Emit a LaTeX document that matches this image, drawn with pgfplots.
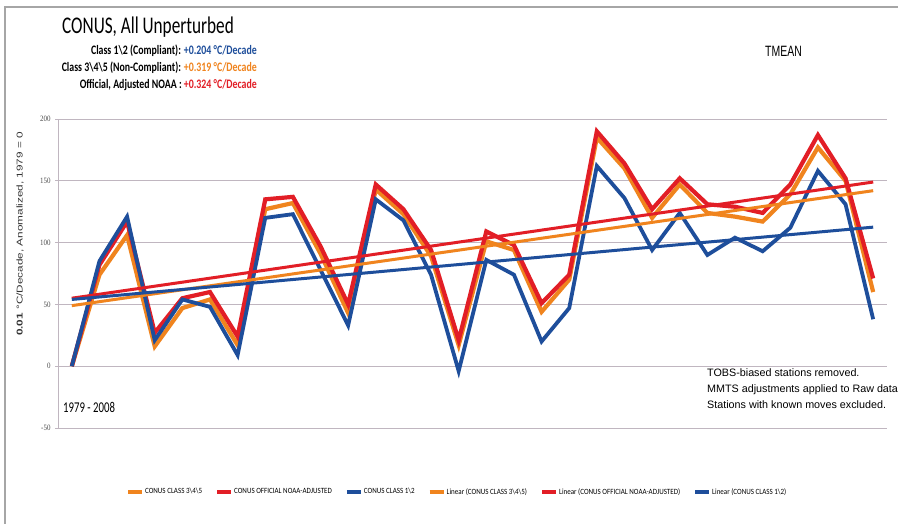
\documentclass[border=0pt]{standalone}
\usepackage{pgfplots}
\pgfplotsset{compat=1.18}
\usepackage{fontspec}
\setmainfont{Carlito}
\newfontfamily\cond[FakeStretch=0.72]{Carlito}
\newfontfamily\subf[FakeStretch=0.76]{Carlito}
\newfontfamily\condarial[FakeStretch=0.7]{Liberation Sans}
\newfontfamily\arialf{Liberation Sans}
\newfontfamily\tickf[FakeStretch=0.85]{Liberation Serif}
\newfontfamily\legf[FakeStretch=0.88]{Carlito}
\definecolor{cOr}{RGB}{240,132,30}
\definecolor{cRd}{RGB}{226,30,38}
\definecolor{cBl}{RGB}{30,78,155}
\definecolor{cGrid}{RGB}{192,182,192}
\pgfplotstableread{
i orange red blue
0 0 0 0
1 74 82 85
2 106 117 121
3 16 27 21
4 47 55 54
5 54 60 48
6 17 24 9
7 127 135 120
8 132 137 123
9 91 97 78
10 43 50 33
11 143 147 135
12 123 127 118
13 89 94 74
14 17 21 -4
15 101 109 86
16 94 98 74
17 44 51 20
18 70 74 47
19 185 190 162
20 160 164 136
21 120 127 94
22 147 152 124
23 124 131 90
24 121 129 104
25 117 124 93
26 139 147 112
27 177 187 158
28 150 152 131
29 60 71 38
}\datatab
\pgfplotstableread{
i orange red blue
0 49 55 54
29 142 149 112.5
}\trendtab
\begin{document}
\begin{tikzpicture}
\useasboundingbox (0,0) rectangle (898bp,524bp);
\fill[white] (0,0) rectangle (898bp,524bp);
\draw[gray!70, line width=1.2bp] (5bp,0) -- (5bp,517bp) -- (898bp,517bp);
\begin{axis}[
  at={(58bp,96bp)}, anchor=south west,
  width=829bp, height=309bp, scale only axis,
  xmin=-0.5, xmax=29.5, ymin=-50, ymax=200,
  axis x line=none, axis y line*=left,
  y axis line style={color=cGrid, line width=1bp},
  ytick={-50,0,50,100,150,200}, xtick=\empty,
  tick align=outside, major tick length=3bp,
  y tick style={color=cGrid, line width=0.8bp},
  ymajorgrids, grid style={color=cGrid, line width=0.8bp},
  /pgf/number format/assume math mode=true,
  yticklabel style={font=\tickf\fontsize{8.2}{9}\selectfont, text=black!70, xshift=-1bp},
  legend style={draw=none, fill=none, at={(0.481,-0.207)}, anchor=center,
    legend columns=6, font=\legf\fontsize{8}{9}\selectfont,
    /tikz/every even column/.append style={column sep=12bp},
    nodes={inner xsep=1bp, inner ysep=1bp}},
  legend image code/.code={\draw[#1, line width=4bp] (0bp,0bp) -- (14bp,0bp);},
]
\addplot[color=cOr, line width=4.2bp, line join=miter] table[x=i, y=orange] {\datatab};
\addplot[color=cRd, line width=4.2bp, line join=miter] table[x=i, y=red] {\datatab};
\addplot[color=cBl, line width=3.8bp, line join=miter] table[x=i, y=blue] {\datatab};
\addplot[color=cOr, line width=3bp] table[x=i, y=orange] {\trendtab};
\addplot[color=cRd, line width=3bp] table[x=i, y=red] {\trendtab};
\addplot[color=cBl, line width=3bp] table[x=i, y=blue] {\trendtab};
\legend{CONUS CLASS 3\textbackslash 4\textbackslash 5,
  CONUS OFFICIAL NOAA-ADJUSTED,
  CONUS CLASS 1\textbackslash 2,
  Linear (CONUS CLASS 3\textbackslash 4\textbackslash 5),
  Linear (CONUS OFFICIAL NOAA-ADJUSTED),
  Linear (CONUS CLASS 1\textbackslash 2)}
\end{axis}
\node[anchor=base west, inner sep=0] at (62bp,490.7bp) {\cond\fontsize{24}{26}\selectfont CONUS, All Unperturbed};
\node[anchor=base east, inner sep=0] at (257bp,469bp) {\subf\bfseries\fontsize{13}{14}\selectfont Class 1\textbackslash 2 (Compliant): \textcolor{cBl}{+0.204 °C/Decade}};
\node[anchor=base east, inner sep=0] at (257bp,452.3bp) {\subf\bfseries\fontsize{13}{14}\selectfont Class 3\textbackslash 4\textbackslash 5 (Non-Compliant): \textcolor{cOr}{+0.319 °C/Decade}};
\node[anchor=base east, inner sep=0] at (257bp,435bp) {\subf\bfseries\fontsize{13}{14}\selectfont Official, Adjusted NOAA : \textcolor{cRd}{+0.324 °C/Decade}};
\node[anchor=base west, inner sep=0] at (765bp,467.3bp) {\condarial\fontsize{15}{17}\selectfont TMEAN};
\node[anchor=base west, inner sep=0] at (63bp,111bp) {\cond\fontsize{15}{17}\selectfont 1979 - 2008};
\node[anchor=base west, inner sep=0] at (707bp,147.3bp) {\arialf\fontsize{10.8}{13}\selectfont TOBS-biased stations removed.};
\node[anchor=base west, inner sep=0] at (707bp,131.3bp) {\arialf\fontsize{10.8}{13}\selectfont MMTS adjustments applied to Raw data};
\node[anchor=base west, inner sep=0] at (707bp,115.7bp) {\arialf\fontsize{10.8}{13}\selectfont Stations with known moves excluded.};
\node[rotate=90, inner sep=0, text=black!80] at (20bp,290bp) {\scalebox{1}[0.72]{\arialf\fontsize{11.8}{13}\selectfont \textbf{0.01} °C/Decade, Anomalized, 1979 = 0}};
\end{tikzpicture}
\end{document}
